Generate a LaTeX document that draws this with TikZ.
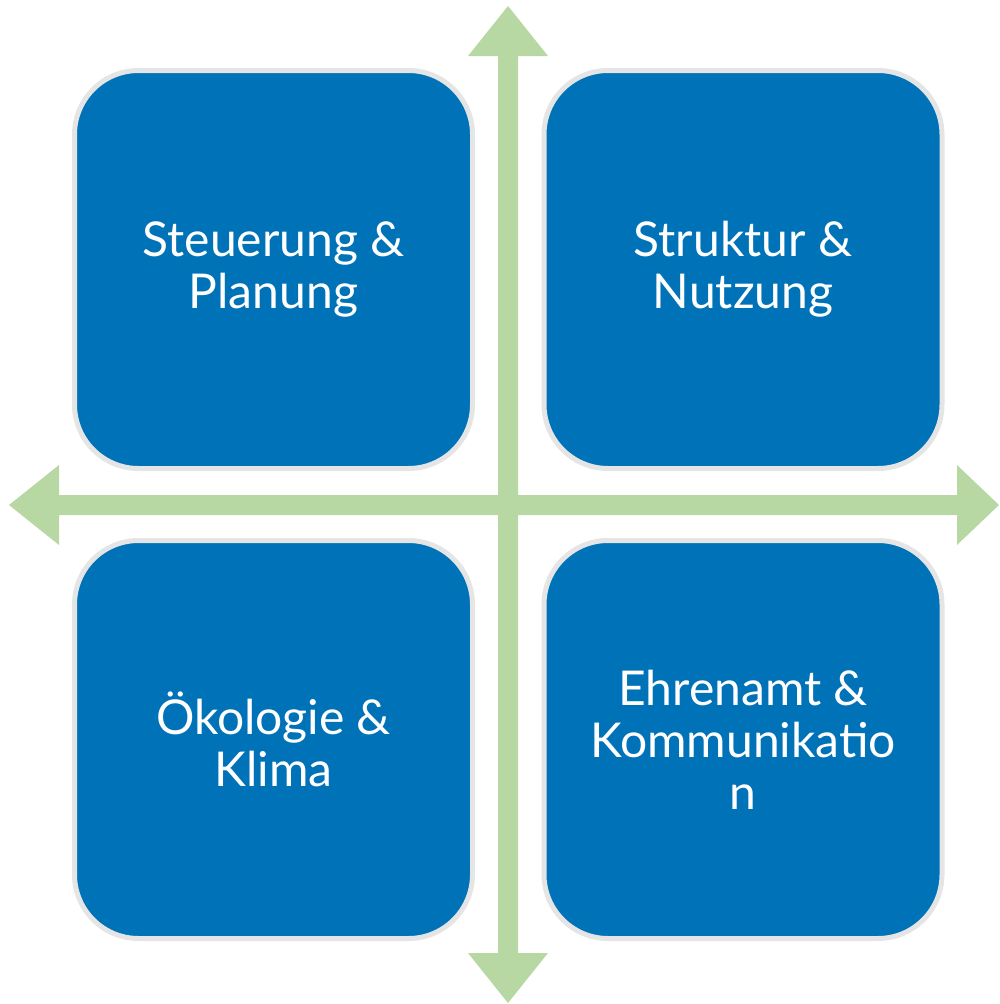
\documentclass[tikz,border=0pt]{standalone}
\usepackage{fontspec}
\setmainfont{Lato}
\definecolor{boxblue}{RGB}{0,114,184}
\definecolor{boxgray}{RGB}{229,229,229}
\definecolor{axgreen}{RGB}{184,216,163}
\begin{document}
\begin{tikzpicture}[x=1pt,y=-1pt,
  quad/.style={draw=boxgray, line width=5pt, fill=boxblue, rounded corners=64pt,
    minimum width=398pt, minimum height=398pt, inner sep=0pt,
    text=white, align=center, font=\fontsize{48pt}{52pt}\selectfont},
  axis/.style={fill=axgreen, draw=none}]
\useasboundingbox (0,0) rectangle (999,1004);
% vertical axis
\fill[axis] (508,6) -- (548,56) -- (518,56) -- (518,953) -- (548,953) -- (508,1003)
  -- (468,953) -- (498,953) -- (498,56) -- (468,56) -- cycle;
% horizontal axis
\fill[axis] (9,505) -- (59,465) -- (59,495) -- (957,495) -- (957,465) -- (999,505)
  -- (957,545) -- (957,515) -- (59,515) -- (59,545) -- cycle;
\node[quad] (tl) at (273.5,269.5) {Steuerung \&\\Planung};
\node[quad] (tr) at (743,269.5) {Struktur \&\\Nutzung};
\node[quad] (bl) at (273.5,739.5) {Ökologie \&\\Klima};
\node[quad] (br) at (743,739.5) {Ehrenamt \&\\Kommunikatio\\n};
\end{tikzpicture}
\end{document}
